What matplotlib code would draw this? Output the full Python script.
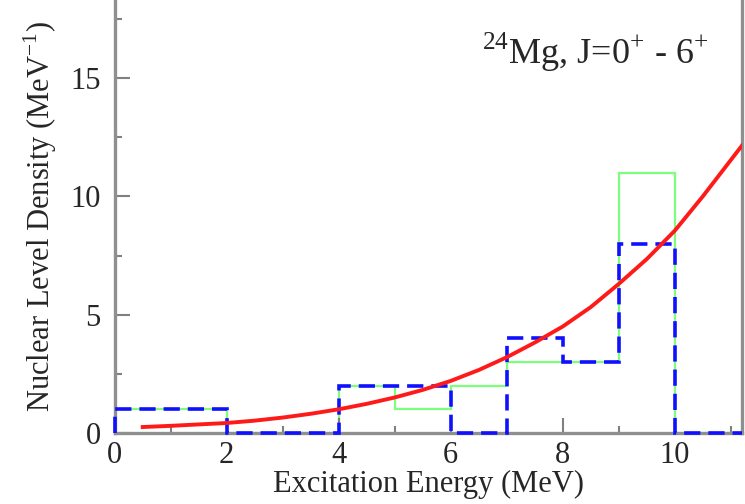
import matplotlib
matplotlib.use("Agg")
import matplotlib.pyplot as plt
from matplotlib.ticker import MultipleLocator

# Shell-model level counts per energy bin (MeV^-1)
green_edges = [0, 2, 4, 5, 6, 7, 8, 9, 10, 11.2]
green_values = [1, 0, 2, 1, 2, 3, 3, 11, 0]

blue_edges = [0, 2, 4, 6, 7, 8, 9, 10, 11.2]
blue_values = [1, 0, 2, 0, 4, 3, 8, 0]

# Smooth level-density curve
curve_energy = [0.5, 1, 1.5, 2, 2.5, 3, 3.5, 4, 4.5, 5, 5.5, 6, 6.5, 7,
                7.5, 8, 8.5, 9, 9.5, 10, 10.5, 11.2]
curve_density = [0.25, 0.3, 0.36, 0.42, 0.52, 0.65, 0.81, 1.0, 1.23, 1.5,
                 1.82, 2.2, 2.66, 3.2, 3.82, 4.5, 5.32, 6.3, 7.35, 8.55,
                 10.0, 12.15]

x_ticks = [0, 2, 4, 6, 8, 10]
y_ticks = [0, 5, 10, 15]

plt.rcParams["font.family"] = ["Liberation Serif", "DejaVu Serif"]
plt.rcParams["mathtext.fontset"] = "custom"
plt.rcParams["mathtext.rm"] = "Liberation Serif"

text_color = "#262626"

fig = plt.figure(figsize=(7.45, 5.04), dpi=100)
ax = fig.add_axes([0.154, 0.141, 0.842, 0.859])

ax.stairs(green_values, green_edges, color="#7dff7d", linewidth=1.6,
          baseline=0, zorder=1.5)
ax.stairs(blue_values, blue_edges, color="#1010ff", linewidth=2.6,
          linestyle=(0, (4.5, 2.2)), baseline=0, zorder=4, clip_on=False)
ax.plot(curve_energy, curve_density, color="#ff1a1a", linewidth=2.8,
        solid_joinstyle="round", zorder=5)

ax.set_xlim(0, 11.2)
ax.set_ylim(0, 18.3)
ax.set_xticks(x_ticks)
ax.set_yticks(y_ticks)
ax.xaxis.set_minor_locator(MultipleLocator(1))
ax.yaxis.set_minor_locator(MultipleLocator(2.5))

spine_color = "#8f8f8f"
for side in ("left", "bottom", "right"):
    ax.spines[side].set_color(spine_color)
    ax.spines[side].set_linewidth(2.4)
    ax.spines[side].set_zorder(2)
ax.spines["top"].set_visible(False)

ax.tick_params(which="both", direction="in", color="#808080", width=1.5,
               labelsize=22, labelcolor=text_color, top=False, right=False)
ax.tick_params(which="major", length=11)
ax.tick_params(which="minor", length=5)
ax.tick_params(axis="x", which="major", pad=6)
ax.tick_params(axis="y", which="major", pad=10)

ax.set_xlabel("Excitation Energy (MeV)", fontsize=22, color=text_color, labelpad=0)
ax.set_ylabel(r"Nuclear Level Density (MeV$^{\mathregular{-1}}$)", fontsize=22,
              color=text_color, labelpad=8)

ax.text(6.55, 15.6, r"$^{\mathregular{24}}$Mg, J=0$^{\mathregular{+}}$ - 6$^{\mathregular{+}}$",
        fontsize=26, color=text_color)

fig.savefig("out.png", dpi=100)
